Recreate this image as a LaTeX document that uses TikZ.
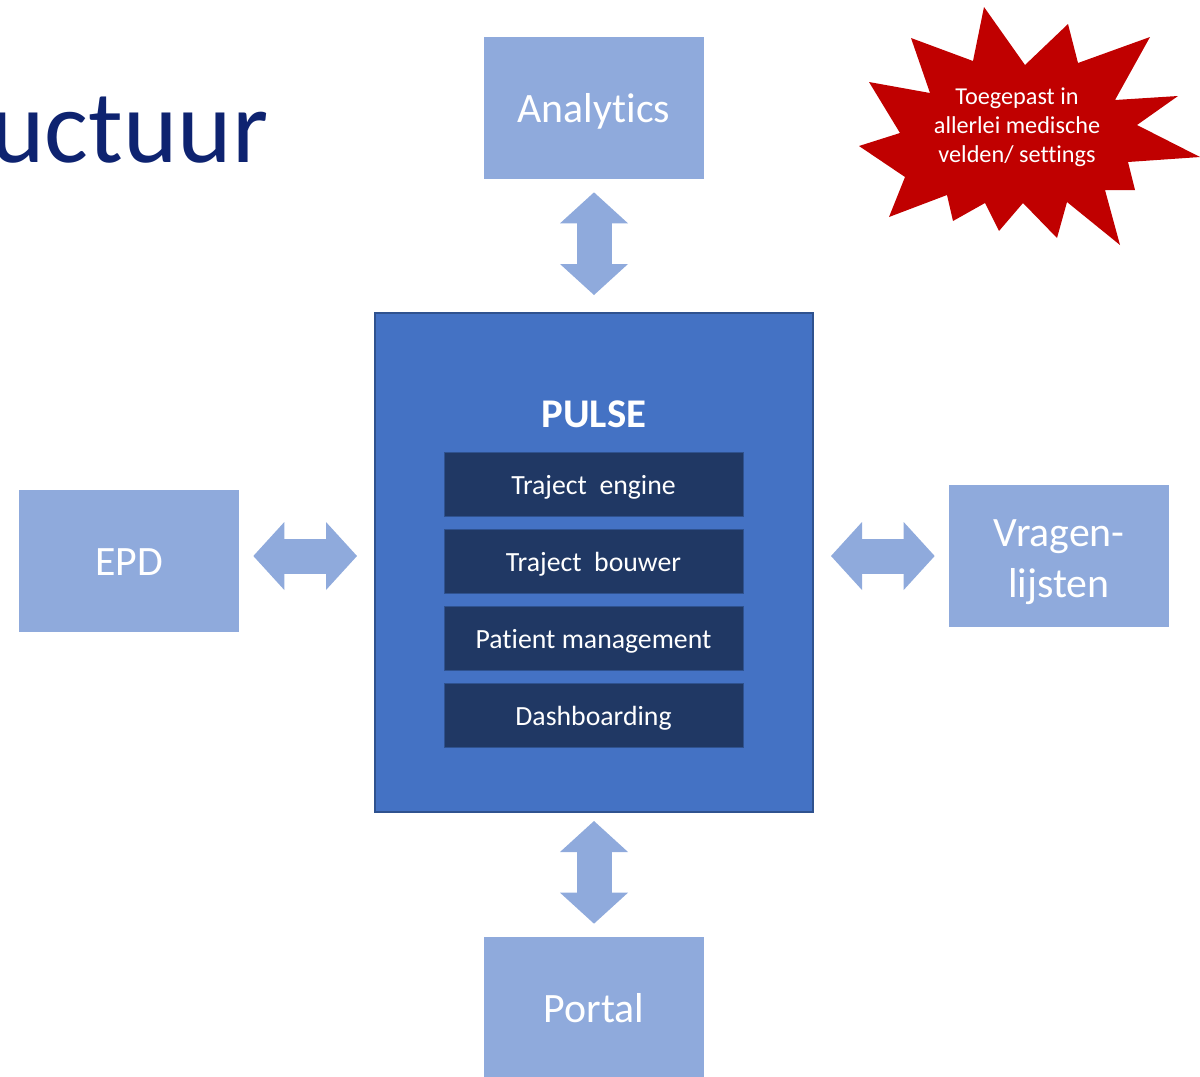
\documentclass[tikz,border=0pt]{standalone}
\usepackage{fontspec}
\setmainfont{Carlito}[Ligatures=NoCommon]
\usepackage{tikz}
\usetikzlibrary{arrows.meta}
\definecolor{lt_blue}{RGB}{143, 170, 220}
\definecolor{pulse_blue}{RGB}{68, 114, 196}
\definecolor{pulse_edge}{RGB}{47, 82, 143}
\definecolor{mod_navy}{RGB}{32, 56, 100}
\definecolor{star_red}{RGB}{192, 0, 0}
\definecolor{title_navy}{RGB}{14, 35, 112}
\tikzstyle{ext}=[rectangle,fill=lt_blue,text=white,inner sep=0pt,align=center,
  text height=0.72cm,text depth=0.16cm,
  minimum width=4.4cm,minimum height=2.84cm,font=\fontsize{23.8}{28.9}\selectfont]
\tikzstyle{core}=[rectangle,fill=pulse_blue,draw=pulse_edge,line width=1.2pt,
  minimum width=8.76cm,minimum height=9.98cm]
\tikzstyle{module}=[rectangle,fill=mod_navy,draw=pulse_edge,line width=0.4pt,text=white,
  text height=0.5cm,text depth=0.1cm,
  minimum width=5.98cm,minimum height=1.28cm,font=\fontsize{15.8}{19}\selectfont]
\tikzstyle{dbl}=[draw=lt_blue,line width=0.7cm,line cap=butt,
  {Triangle[length=0.62cm,width=1.36cm,line width=0pt]}-{Triangle[length=0.62cm,width=1.36cm,line width=0pt]}]

\begin{document}
\begin{tikzpicture}[x=0.02cm,y=-0.02cm]
        \useasboundingbox (0,0) rectangle (1200,1076);
        \node [anchor=base east,inner sep=0pt,text=title_navy,font=\fontsize{59}{70}\selectfont] (title) at (269,162) {uctuur};
        \node [style=ext] (analytics) at (594,108) {Analytics};
        \node [style=ext] (epd) at (129,561) {EPD};
        \node [style=ext,text height=1.83cm] (vragen) at (1059,556) {Vragen-\\lijsten};
        \node [style=ext] (portal) at (594,1008) {Portal};
        \node [style=core] (pulse) at (594,562.5) {};
        \node [text=white,font=\bfseries\fontsize{23.2}{28}\selectfont] (pulsetxt) at (594,414) {PULSE};
        \node [style=module] (engine) at (593.5,484) {Traject\ \ engine};
        \node [style=module] (bouwer) at (593.5,561) {Traject\ \ bouwer};
        \node [style=module] (patient) at (593.5,638) {Patient management};
        \node [style=module] (dash) at (593.5,715) {Dashboarding};
        \draw [style=dbl,shorten <=0.26cm,shorten >=0.34cm] (analytics.south) to (pulse.north);
        \draw [style=dbl,shorten <=0.28cm,shorten >=0.34cm] (epd.east |- vragen) to (pulse.west |- vragen);
        \draw [style=dbl,shorten <=0.34cm,shorten >=0.28cm] (pulse.east |- vragen) to (vragen.west);
        \draw [style=dbl,shorten <=0.16cm,shorten >=0.26cm] (pulse.south) to (portal.north);
        % starburst
        \fill [star_red] (984,7) -- (1025,65) -- (1068,24) -- (1078,63) -- (1150,37) -- (1115,100)
          -- (1178,96) -- (1137,125) -- (1200,157) -- (1128,162) -- (1135,190) -- (1105,190)
          -- (1120,245) -- (1067,202) -- (1057,238) -- (1023,203) -- (999,231) -- (985,203)
          -- (953,221) -- (947,195) -- (889,217) -- (905,177) -- (859,146) -- (900,133)
          -- (869,82) -- (930,93) -- (911,38) -- (973,61) -- cycle;
        \node [text=white,align=center,font=\fontsize{13.8}{16.4}\selectfont] (star) at (1017,127) {Toegepast in\\allerlei medische\\velden/ settings};
    \end{tikzpicture}
\end{document}
